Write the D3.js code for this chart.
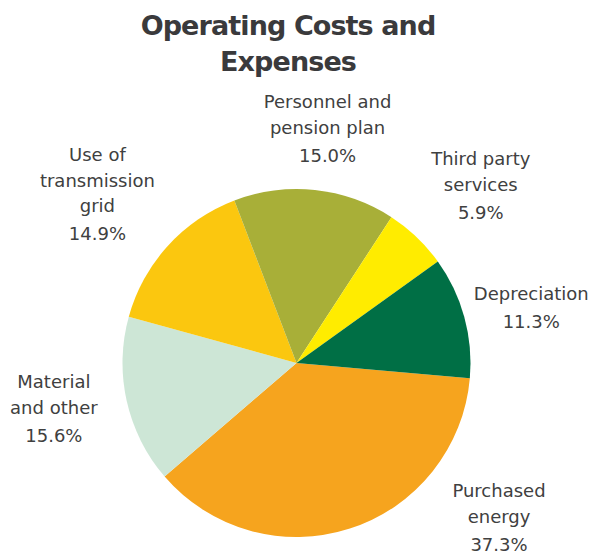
<!DOCTYPE html>
<html>
<head>
<meta charset="utf-8">
<script src="https://cdn.jsdelivr.net/npm/d3@7"></script>
<style>
  body { margin: 0; background: #fff; }
  text { font-family: "DejaVu Sans", Verdana, sans-serif; fill: #404040; }
</style>
</head>
<body>
<div id="chart"></div>
<script>
var categories = ["Purchased energy", "Material and other", "Use of transmission grid",
                  "Personnel and pension plan", "Third party services", "Depreciation"];
var shares = [37.3, 15.6, 14.9, 15.0, 5.9, 11.3];
var colors = ["#f6a41e", "#cde6d6", "#fbc70f", "#a8af38", "#ffec00", "#006f45"];
// label text lines (shown as in the original)
var labelLines = [
  ["Purchased", "energy"],
  ["Material", "and other"],
  ["Use of", "transmission", "grid"],
  ["Personnel and", "pension plan"],
  ["Third party", "services"],
  ["Depreciation"]
];

var width = 594, height = 553;
var cx = 296.5, cy = 363, radius = 174;

// label anchors, given as angle (deg, clockwise from top) and distance from centre
var labelAnchor = [
  {a: 128, r: 257, first: 497},
  {a: 257, r: 249, first: 388},
  {a: 309.5, r: 258, first: 161},
  {a: 7.8, r: 229, first: 108},
  {a: 47, r: 252, first: 165},
  {a: 78, r: 240, first: 300}
];

var svg = d3.select("#chart").append("svg")
  .attr("width", width)
  .attr("height", height);

svg.append("text")
  .attr("x", 288)
  .attr("y", 35)
  .attr("text-anchor", "middle")
  .attr("font-size", 27)
  .attr("font-weight", "bold")
  .attr("letter-spacing", -0.9)
  .style("fill", "#3a3a3c")
  .text("Operating Costs and");

svg.append("text")
  .attr("x", 288)
  .attr("y", 71)
  .attr("text-anchor", "middle")
  .attr("font-size", 27)
  .attr("font-weight", "bold")
  .attr("letter-spacing", -0.9)
  .style("fill", "#3a3a3c")
  .text("Expenses");

var start = 95 * Math.PI / 180;
var pie = d3.pie().sort(null)
  .startAngle(start)
  .endAngle(start + 2 * Math.PI)
  .value(function(d) { return d; });

var arc = d3.arc().innerRadius(0).outerRadius(radius);

var g = svg.append("g")
  .attr("transform", "translate(" + cx + "," + cy + ")");

g.selectAll("path")
  .data(pie(shares))
  .enter().append("path")
  .attr("d", arc)
  .attr("fill", function(d, i) { return colors[i]; });

var labels = svg.append("g")
  .attr("font-size", 18)
  .attr("text-anchor", "middle")
  .selectAll("text")
  .data(shares)
  .enter().append("text")
  .each(function(d, i) {
    var t = d3.select(this),
        a = labelAnchor[i].a * Math.PI / 180,
        x = cx + labelAnchor[i].r * Math.sin(a),
        y = labelAnchor[i].first,
        lines = labelLines[i];
    lines.forEach(function(line, j) {
      t.append("tspan").attr("x", x).attr("y", y + j * 25.5).text(line);
    });
    t.append("tspan")
      .attr("x", x)
      .attr("y", y + (lines.length - 1) * 25.5 + 28)
      .text(d3.format(".1f")(d) + "%");
  });
</script>
</body>
</html>
